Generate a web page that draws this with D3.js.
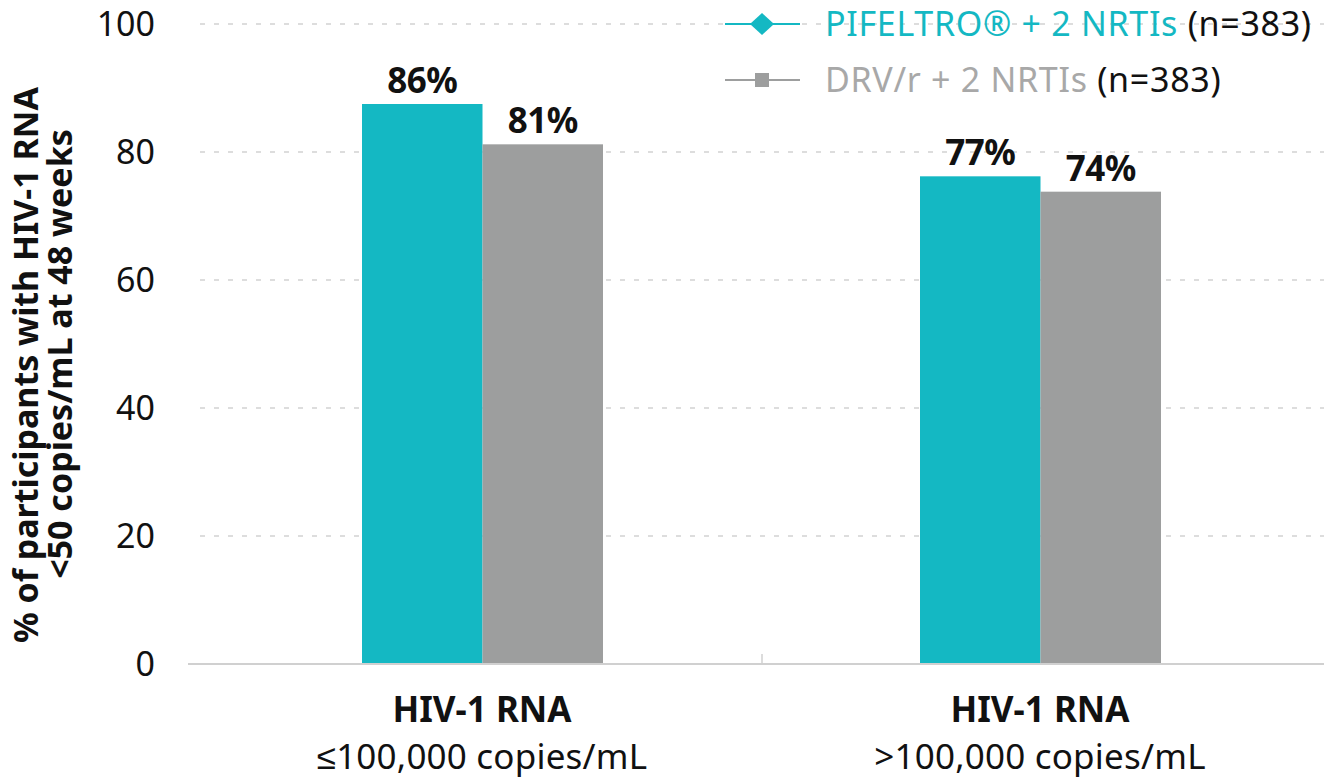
<!DOCTYPE html>
<html>
<head>
<meta charset="utf-8">
<script src="https://cdnjs.cloudflare.com/ajax/libs/d3/7.8.5/d3.min.js"></script>
<style>
  body { margin: 0; background: #fff; }
  svg { display: block; font-family: "Noto Sans", sans-serif; }
</style>
</head>
<body>
<svg id="canvas" width="1324" height="780"></svg>
<script>
let groups = ['low', 'high']
let groupTitles = ['HIV-1 RNA', 'HIV-1 RNA']
let groupSubtitles = ['\u2264100,000 copies/mL', '>100,000 copies/mL']
let seriesNames = ['PIFELTRO\u00AE + 2 NRTIs', 'DRV/r + 2 NRTIs']
let seriesN = ['(n=383)', '(n=383)']
let pifeltroValues = [87.5, 76.2]
let drvValues = [81.2, 73.8]
let pifeltroLabels = ['86%', '77%']
let drvLabels = ['81%', '74%']
let yTicks = [0, 20, 40, 60, 80, 100]

let teal = '#14b8c3'
let gray = '#9d9e9e'

let canvas = d3.select('#canvas')

let width = 1324

let x = d3.scaleBand()
    .domain(groups)
    .range([203, 1319])

let xInner = d3.scaleBand()
    .domain([0, 1])
    .range([0, 241])

let y = d3.scaleLinear()
    .domain([0, 100])
    .range([664, 24])

// gridlines
canvas.append('g')
    .selectAll('line')
    .data(yTicks.filter(d => d > 0))
    .enter()
    .append('line')
    .attr('x1', 200)
    .attr('x2', width)
    .attr('y1', d => y(d))
    .attr('y2', d => y(d))
    .attr('stroke', '#d2d2d2')
    .attr('stroke-width', 1.5)
    .attr('stroke-dasharray', '5,9')

// y axis tick labels
canvas.append('g')
    .selectAll('text')
    .data(yTicks)
    .enter()
    .append('text')
    .attr('x', 155)
    .attr('y', d => y(d) + 12)
    .attr('text-anchor', 'end')
    .attr('font-size', 34)
    .attr('fill', '#111')
    .text(d => d)

// y axis title, two lines
let yTitle = canvas.append('text')
    .attr('transform', 'translate(38,365) rotate(-90)')
    .attr('text-anchor', 'middle')
    .attr('font-size', 34)
    .attr('font-weight', 'bold')
    .attr('fill', '#111')
yTitle.append('tspan').attr('x', 0).attr('y', 0).text('% of participants with HIV-1 RNA')
yTitle.append('tspan').attr('x', 11).attr('y', 34).text('<50 copies/mL at 48 weeks')

let groupX = (i) => x(groups[i]) + x.bandwidth() / 2 - 120

let bars = []
groups.forEach((g, i) => {
    bars.push({ g: i, s: 0, v: pifeltroValues[i], label: pifeltroLabels[i], color: teal })
    bars.push({ g: i, s: 1, v: drvValues[i], label: drvLabels[i], color: gray })
})

canvas.append('g')
    .selectAll('rect')
    .data(bars)
    .enter()
    .append('rect')
    .attr('x', d => groupX(d.g) + xInner(d.s))
    .attr('width', xInner.bandwidth())
    .attr('y', d => y(d.v))
    .attr('height', d => y(0) - y(d.v))
    .attr('fill', d => d.color)

canvas.append('g')
    .selectAll('text')
    .data(bars)
    .enter()
    .append('text')
    .attr('x', d => groupX(d.g) + xInner(d.s) + xInner.bandwidth() / 2)
    .attr('y', d => y(d.v) - 11)
    .attr('text-anchor', 'middle')
    .attr('font-size', 35)
    .attr('font-weight', 'bold')
    .attr('letter-spacing', -0.5)
    .attr('fill', '#111')
    .text(d => d.label)

// baseline and middle tick
canvas.append('line')
    .attr('x1', 188).attr('x2', width)
    .attr('y1', y(0)).attr('y2', y(0))
    .attr('stroke', '#d0d0d0').attr('stroke-width', 2)
canvas.append('line')
    .attr('x1', 762).attr('x2', 762)
    .attr('y1', y(0) - 10).attr('y2', y(0))
    .attr('stroke', '#d0d0d0').attr('stroke-width', 1.5)

// category labels
groups.forEach((g, i) => {
    let cx = x(g) + x.bandwidth() / 2
    canvas.append('text')
        .attr('x', cx).attr('y', 722)
        .attr('text-anchor', 'middle')
        .attr('font-size', 35)
        .attr('font-weight', 'bold')
        .attr('fill', '#111')
        .text(groupTitles[i])
    canvas.append('text')
        .attr('x', cx).attr('y', 769)
        .attr('text-anchor', 'middle')
        .attr('font-size', 35)
        .attr('letter-spacing', 0.2)
        .attr('fill', '#111')
        .text(groupSubtitles[i])
})

// legend
let legendColors = [teal, gray]
let legendText = ['#14b8c3', '#a8a8a8']
seriesNames.forEach((name, i) => {
    let ly = 24 + i * 56
    let lg = canvas.append('g')
    lg.append('line')
        .attr('x1', 725).attr('x2', 800)
        .attr('y1', ly).attr('y2', ly)
        .attr('stroke', legendColors[i]).attr('stroke-width', 2)
    if (i === 0) {
        lg.append('path')
            .attr('d', 'M0,-11L12,0L0,11L-12,0Z')
            .attr('transform', 'translate(762,' + ly + ')')
            .attr('fill', legendColors[i])
    } else {
        lg.append('rect')
            .attr('x', 755).attr('y', ly - 7)
            .attr('width', 14).attr('height', 14)
            .attr('fill', legendColors[i])
    }
    let t = lg.append('text')
        .attr('x', 825).attr('y', ly + 12)
        .attr('font-size', 34)
        .attr('letter-spacing', 0.7)
    t.append('tspan').attr('fill', legendText[i]).text(name + ' ')
    t.append('tspan').attr('fill', '#111').text(seriesN[i])
})
</script>
</body>
</html>
